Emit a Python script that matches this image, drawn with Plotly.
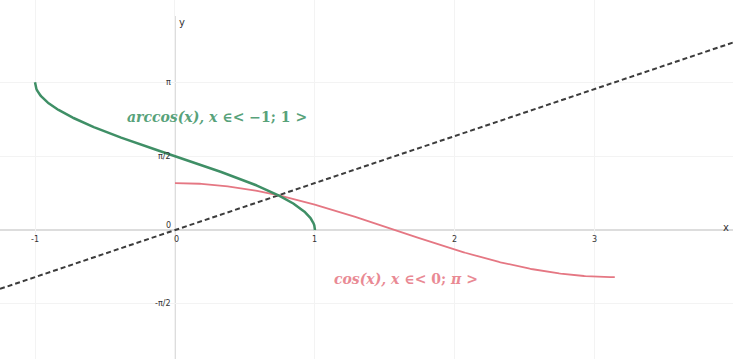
import numpy as np
import plotly.graph_objects as go

# Sample points for the curves
x_acos = np.linspace(-1, 1, 401)
y_acos = np.arccos(x_acos)
x_cos = np.linspace(0, np.pi, 301)
y_cos = np.cos(x_cos)
x_id = [-1.25, 4.0]
y_id = [-1.25, 4.0]

x_ticks = [-1, 0, 1, 2, 3]
x_tick_text = ["-1", "0", "1", "2", "3"]
y_ticks = [np.pi, np.pi / 2, -np.pi / 2]
y_tick_text = ["π", "π/2", "-π/2"]

X_RANGE = [-1.25, 3.986]
Y_RANGE = [-2.74, 4.89]

fig = go.Figure()
fig.add_trace(go.Scatter(x=x_id, y=y_id, mode="lines",
                         line=dict(color="#3c3c3c", width=2, dash="5px,3px")))
fig.add_trace(go.Scatter(x=x_cos, y=y_cos, mode="lines",
                         line=dict(color="#e57783", width=1.8)))
fig.add_trace(go.Scatter(x=x_acos, y=y_acos, mode="lines",
                         line=dict(color="#3f8f66", width=2.5)))

# Axis lines through the origin
fig.add_shape(type="line", x0=X_RANGE[0], x1=X_RANGE[1], y0=0, y1=0,
              line=dict(color="#dddddd", width=2), layer="below")
fig.add_shape(type="line", x0=0, x1=0, y0=Y_RANGE[0], y1=4.55,
              line=dict(color="#dddddd", width=2), layer="below")

tick_font = dict(family="DejaVu Sans", size=8, color="#333333")
for v, t in zip(x_ticks, x_tick_text):
    fig.add_annotation(x=v, y=0, text=t, showarrow=False, font=tick_font,
                       xshift=2 if v == 0 else 0, yshift=-9)
for v, t in zip(y_ticks, y_tick_text):
    fig.add_annotation(x=0, y=v, text=t, showarrow=False, font=tick_font,
                       xanchor="right", xshift=-2)
fig.add_annotation(x=0, y=0, text="0", showarrow=False, font=tick_font,
                   xanchor="right", xshift=-2, yshift=5)
fig.add_annotation(x=0, y=4.55, text="y", showarrow=False,
                   font=dict(family="DejaVu Sans", size=10, color="#333333"),
                   xanchor="left", xshift=2, yshift=-6)
fig.add_annotation(x=X_RANGE[1], y=0, text="x", showarrow=False,
                   font=dict(family="DejaVu Sans", size=10, color="#333333"),
                   xanchor="right", xshift=-2, yshift=3)

label_font = "DejaVu Serif"
fig.add_annotation(x=0.3, y=2.4, text="<b><i>arccos(x), x</i> ∈< −1; 1 ></b>",
                   showarrow=False,
                   font=dict(family=label_font, size=14, color="#58a27a"))
fig.add_annotation(x=1.65, y=-1.05, text="<b><i>cos(x), x</i> ∈< 0; <i>π</i> ></b>",
                   showarrow=False,
                   font=dict(family=label_font, size=14, color="#e98a94"))

fig.update_xaxes(range=X_RANGE, showgrid=True, gridcolor="#f3f3f3",
                 tickvals=x_ticks, showticklabels=False, zeroline=False,
                 showline=False, fixedrange=True)
fig.update_yaxes(range=Y_RANGE, showgrid=True, gridcolor="#f3f3f3",
                 tickvals=y_ticks, showticklabels=False, zeroline=False,
                 showline=False, fixedrange=True)
fig.update_layout(width=733, height=359, margin=dict(l=0, r=0, t=0, b=0),
                  paper_bgcolor="white", plot_bgcolor="white",
                  showlegend=False)

fig.write_html("out.html", config={"displayModeBar": False})
